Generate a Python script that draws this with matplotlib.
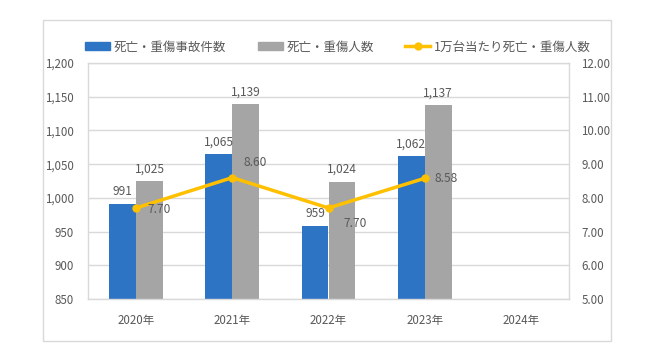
import matplotlib
matplotlib.use("Agg")
import matplotlib.pyplot as plt
import numpy as np
from matplotlib.patches import Rectangle
from matplotlib.lines import Line2D

plt.rcParams['font.family'] = ['Noto Sans CJK JP', 'DejaVu Sans']

years = ["2020年", "2021年", "2022年", "2023年", "2024年"]
accidents = [991, 1065, 959, 1062]
persons = [1025, 1139, 1024, 1137]
rate = [7.70, 8.60, 7.70, 8.58]
series_names = ["死亡・重傷事故件数", "死亡・重傷人数", "1万台当たり死亡・重傷人数"]

BLUE = "#2E74C4"
GREY = "#A5A5A5"
GOLD = "#FFC000"
TXT = "#595959"
GRID = "#D9D9D9"

fig = plt.figure(figsize=(6.6, 3.64), dpi=100)
# outer border
fig.patches.append(Rectangle((43/660, 1-341/364), (611-43)/660, (341-20)/364,
                             transform=fig.transFigure, fill=False,
                             edgecolor="#D9D9D9", linewidth=1.0, zorder=0))

ax = fig.add_axes([88/660, 1-299/364, (569-88)/660, (299-63)/364])
x = np.arange(len(years))
w = 0.28
n = len(accidents)
ax.bar(x[:n] - w/2, accidents, w, color=BLUE, zorder=2)
ax.bar(x[:n] + w/2, persons, w, color=GREY, zorder=2)
ax.set_ylim(850, 1200)
ax.set_xlim(-0.5, len(years) - 0.5)
ax.set_yticks(np.arange(850, 1201, 50))
ax.set_yticklabels([f"{v:,}" for v in range(850, 1201, 50)])
ax.set_xticks(x)
ax.set_xticklabels(years)
ax.grid(axis="y", color=GRID, linewidth=1.0, zorder=0)
for s in ax.spines.values():
    s.set_color(GRID)
    s.set_linewidth(1.0)
ax.tick_params(axis="both", length=0, colors=TXT, labelsize=8.3)
ax.tick_params(axis="x", pad=11)
ax.tick_params(axis="y", pad=10)

for xi, v in zip(x[:n] - w/2, accidents):
    ax.annotate(f"{v:,}", (xi, v), xytext=(0, 4), textcoords="offset points",
                ha="center", va="bottom", fontsize=8.6, color=TXT)
for xi, v in zip(x[:n] + w/2, persons):
    ax.annotate(f"{v:,}", (xi, v), xytext=(0, 4), textcoords="offset points",
                ha="center", va="bottom", fontsize=8.6, color=TXT)

ax2 = ax.twinx()
ax2.set_ylim(5, 12)
ax2.set_yticks(np.arange(5, 12.01, 1))
ax2.set_yticklabels([f"{v:.2f}" for v in np.arange(5, 12.01, 1)])
ax2.tick_params(axis="y", length=0, colors=TXT, labelsize=8.3, pad=9)
for s in ax2.spines.values():
    s.set_visible(False)
ax2.plot(x[:n], rate, color=GOLD, linewidth=2.5, marker="o", markersize=5, zorder=3)
label_offsets = [(8, -1), (8, 11), (11, -11), (7, 0)]
for xi, v, off in zip(x[:n], rate, label_offsets):
    ax2.annotate(f"{v:.2f}", (xi, v), xytext=off, textcoords="offset points",
                 ha="left", va="center", fontsize=8.6, color=TXT)

handles = [Rectangle((0, 0), 1, 1, color=BLUE),
           Rectangle((0, 0), 1, 1, color=GREY),
           Line2D([0], [0], color=GOLD, linewidth=2.5, marker="o", markersize=5)]
fig.legend(handles, series_names, loc="center", bbox_to_anchor=(338/660, 1-47/364),
           ncol=3, frameon=False, fontsize=9, labelcolor=TXT, handlelength=2.0,
           handleheight=0.55, columnspacing=2.5, handletextpad=0.3)

fig.savefig("out.png", dpi=100)
